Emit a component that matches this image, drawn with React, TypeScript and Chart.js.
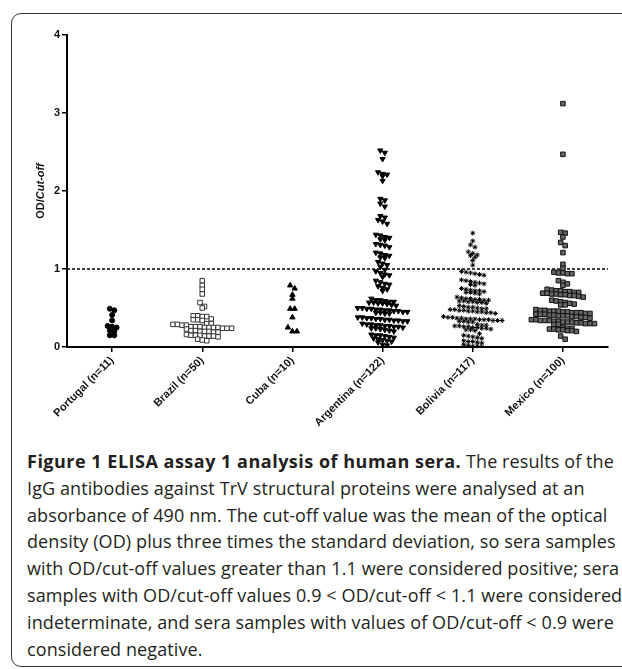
import React, { useEffect, useRef } from "react";
import { Chart, registerables } from "chart.js";

Chart.register(...registerables);

// ---- data -------------------------------------------------------------
const categories = [
  "Portugal (n=11)",
  "Brazil (n=50)",
  "Cuba (n=10)",
  "Argentina (n=122)",
  "Bolivia (n=117)",
  "Mexico (n=100)",
];

const yTicks = [0, 1, 2, 3, 4];
const cutoffLine = 1;

const portugal = [0.49, 0.47, 0.41, 0.34, 0.27, 0.26, 0.25, 0.21, 0.2, 0.15, 0.15];

const brazil = [
  0.85, 0.79, 0.74, 0.68, 0.57, 0.52, 0.5,
  0.4, 0.4, 0.39, 0.39,
  0.36, 0.35, 0.35, 0.34,
  0.3, 0.3, 0.29, 0.29, 0.28, 0.28,
  0.26, 0.26, 0.26, 0.25, 0.25, 0.25, 0.25, 0.24, 0.24, 0.24, 0.23,
  0.21, 0.21, 0.2, 0.2, 0.2, 0.19, 0.19,
  0.16, 0.15, 0.15, 0.15, 0.14, 0.14, 0.14, 0.13,
  0.1, 0.09, 0.08,
];

const cuba = [0.79, 0.75, 0.67, 0.62, 0.49, 0.49, 0.38, 0.25, 0.2, 0.2];

const argentina = [
  2.52, 2.49,
  2.41,
  2.24, 2.22, 2.21, 2.19,
  2.13,
  1.9, 1.88, 1.84, 1.8,
  1.68, 1.66, 1.63, 1.61, 1.58,
  1.44, 1.43, 1.41, 1.4, 1.38, 1.37,
  1.32, 1.31, 1.3, 1.28,
  1.21, 1.2, 1.18, 1.17, 1.15, 1.14,
  1.09, 1.07, 1.05, 1.03,
  0.99, 0.97, 0.95, 0.93, 0.92, 0.9,
  0.85, 0.83, 0.81, 0.8, 0.78, 0.76, 0.74, 0.72,
  0.62, 0.6, 0.6, 0.59, 0.58, 0.58, 0.57, 0.57, 0.56, 0.56, 0.55, 0.54, 0.53,
  0.5, 0.5, 0.49, 0.49, 0.48, 0.48, 0.47, 0.47, 0.46, 0.46, 0.45, 0.45, 0.44, 0.44, 0.43, 0.43,
  0.38, 0.38, 0.37, 0.37, 0.36, 0.36, 0.35, 0.35, 0.34, 0.34, 0.33, 0.33,
  0.3, 0.29, 0.29, 0.28, 0.28, 0.27, 0.27, 0.26, 0.26, 0.25, 0.24, 0.24, 0.23, 0.22, 0.21, 0.2,
  0.16, 0.15, 0.15, 0.14, 0.13, 0.12, 0.11, 0.1, 0.09, 0.08, 0.07, 0.06,
  0.03, 0.02,
];

const bolivia = [
  1.46,
  1.36, 1.31, 1.28,
  1.22, 1.2, 1.18, 1.17, 1.15,
  1.11, 1.05,
  0.97, 0.96, 0.95, 0.94, 0.93, 0.92,
  0.86, 0.85, 0.84, 0.83, 0.82, 0.81, 0.8, 0.79,
  0.75, 0.74, 0.73, 0.72, 0.72, 0.71, 0.7, 0.7, 0.69, 0.68,
  0.64, 0.63, 0.62, 0.62, 0.61, 0.61, 0.6, 0.6, 0.59, 0.59, 0.58, 0.58, 0.57, 0.57, 0.56,
  0.53, 0.52, 0.51, 0.51, 0.5, 0.49, 0.49, 0.48, 0.48, 0.47, 0.47, 0.46, 0.46, 0.45, 0.45, 0.44, 0.44, 0.43,
  0.39, 0.38, 0.38, 0.37, 0.37, 0.36, 0.36, 0.36, 0.35, 0.35, 0.35, 0.34, 0.34, 0.34, 0.33, 0.33, 0.32, 0.32,
  0.29, 0.28, 0.28, 0.27, 0.27, 0.26, 0.26, 0.25, 0.25, 0.24, 0.24, 0.23, 0.22, 0.22, 0.21,
  0.17, 0.15, 0.14, 0.13, 0.12, 0.11,
  0.08, 0.07, 0.07, 0.06, 0.05,
  0.03, 0.02, 0.01, 0.01, 0.0,
];

const mexico = [
  3.12, 2.47,
  1.47, 1.46, 1.41, 1.34, 1.3,
  1.21, 1.06, 1.01,
  0.96, 0.95, 0.95, 0.94, 0.94,
  0.85, 0.83, 0.81, 0.79,
  0.74, 0.73, 0.72, 0.72, 0.71, 0.71, 0.7, 0.7, 0.69, 0.69, 0.68, 0.68, 0.67, 0.67, 0.66, 0.66, 0.65, 0.64,
  0.6, 0.59, 0.58, 0.57, 0.56, 0.55, 0.54, 0.54,
  0.48, 0.47, 0.47, 0.46, 0.46, 0.46, 0.45, 0.45, 0.44, 0.44, 0.44, 0.43, 0.43, 0.42, 0.42, 0.42,
  0.41, 0.41, 0.4, 0.4, 0.4, 0.39, 0.39, 0.38, 0.38, 0.37,
  0.35, 0.35, 0.34, 0.34, 0.34, 0.33, 0.33, 0.32, 0.32, 0.32, 0.31, 0.31, 0.3, 0.3, 0.3, 0.29, 0.29,
  0.25, 0.24, 0.24, 0.23, 0.23, 0.22, 0.22, 0.21, 0.21, 0.2,
  0.14, 0.1,
];

const seriesValues = [portugal, brazil, cuba, argentina, bolivia, mexico];

// ---- caption ----------------------------------------------------------
const captionBold = "Figure 1 ELISA assay 1 analysis of human sera.";
const captionLines = [
  " The results of the",
  "IgG antibodies against TrV structural proteins were analysed at an",
  "absorbance of 490 nm. The cut-off value was the mean of the optical",
  "density (OD) plus three times the standard deviation, so sera samples",
  "with OD/cut-off values greater than 1.1 were considered positive; sera",
  "samples with OD/cut-off values 0.9 < OD/cut-off < 1.1 were considered",
  "indeterminate, and sera samples with values of OD/cut-off < 0.9 were",
  "considered negative.",
];

// ---- styles -----------------------------------------------------------
const markerStyles = [
  { pointStyle: "circle", radius: 2.5, bg: "#000", border: "#000", rotation: 0 },
  { pointStyle: "rect", radius: 3.2, bg: "#fff", border: "#333", rotation: 0 },
  { pointStyle: "triangle", radius: 3.1, bg: "#000", border: "#000", rotation: 0 },
  { pointStyle: "triangle", radius: 3.0, bg: "#000", border: "#000", rotation: 180 },
  { pointStyle: "star", radius: 2.4, bg: "#000", border: "#000", rotation: 0 },
  { pointStyle: "rect", radius: 3.2, bg: "#666", border: "#111", rotation: 0 },
];

const FONT = "'Liberation Sans', Arial, Helvetica, sans-serif";

// column-scatter layout: points of similar value share a row, centred on the category
function swarm(values: number[], idx: number, rowH: number, pitch: number) {
  const sorted = [...values].sort((a, b) => b - a);
  const out: { x: number; y: number }[] = [];
  let i = 0;
  while (i < sorted.length) {
    const start = sorted[i];
    const row: number[] = [];
    while (i < sorted.length && start - sorted[i] < rowH) {
      row.push(sorted[i]);
      i++;
    }
    row.forEach((v, k) => out.push({ x: idx + (k - (row.length - 1) / 2) * pitch, y: v }));
  }
  return out;
}

const cutoffPlugin = {
  id: "cutoffLine",
  beforeDatasetsDraw(chart: any) {
    const { ctx, chartArea, scales } = chart;
    const y = scales.y.getPixelForValue(cutoffLine);
    ctx.save();
    ctx.strokeStyle = "#000";
    ctx.lineWidth = 1.5;
    ctx.setLineDash([3, 2]);
    ctx.beginPath();
    ctx.moveTo(chartArea.left, y);
    ctx.lineTo(chartArea.right, y);
    ctx.stroke();
    ctx.restore();
  },
};

const yTitlePlugin = {
  id: "yTitle",
  afterDraw(chart: any) {
    const { ctx, chartArea } = chart;
    const cy = (chartArea.top + chartArea.bottom) / 2;
    ctx.save();
    ctx.translate(41, cy);
    ctx.rotate(-Math.PI / 2);
    ctx.fillStyle = "#111";
    ctx.textBaseline = "middle";
    const f1 = `bold 11px ${FONT}`;
    const f2 = `italic bold 11px ${FONT}`;
    ctx.font = f1;
    const w1 = ctx.measureText("OD/").width;
    ctx.font = f2;
    const w2 = ctx.measureText("Cut-off").width;
    const x0 = -(w1 + w2) / 2;
    ctx.font = f1;
    ctx.textAlign = "left";
    ctx.fillText("OD/", x0, 0);
    ctx.font = f2;
    ctx.fillText("Cut-off", x0 + w1, 0);
    ctx.restore();
  },
};

function ScatterChart() {
  const ref = useRef<HTMLCanvasElement | null>(null);
  useEffect(() => {
    if (!ref.current) return;
    const datasets = seriesValues.map((vals, i) => {
      const s = markerStyles[i];
      return {
        label: categories[i],
        data: swarm(vals, i, 0.05, 0.05),
        pointStyle: s.pointStyle as any,
        pointRadius: s.radius,
        pointRotation: s.rotation,
        pointBackgroundColor: s.bg,
        pointBorderColor: s.border,
        pointBorderWidth: 1,
        showLine: false,
      };
    });
    const chart = new Chart(ref.current, {
      type: "scatter",
      data: { datasets },
      options: {
        animation: false,
        responsive: false,
        devicePixelRatio: 1,
        layout: { padding: { left: 0, right: 14, top: 35, bottom: 0 } },
        plugins: { legend: { display: false }, tooltip: { enabled: false } },
        scales: {
          x: {
            type: "linear",
            min: -0.5,
            max: categories.length - 0.5,
            afterBuildTicks: (s: any) => {
              s.ticks = categories.map((_, i) => ({ value: i }));
            },
            afterFit: (s: any) => {
              s.height = 93;
            },
            ticks: {
              autoSkip: false,
              minRotation: 45,
              maxRotation: 45,
              padding: 2,
              color: "#111",
              font: { family: FONT, size: 11, weight: "bold" },
              callback: (v: any) => categories[v as number] ?? "",
            },
            grid: { drawOnChartArea: false, tickLength: 5, color: "#000", lineWidth: 1.5 },
            border: { color: "#000", width: 2 },
          },
          y: {
            min: yTicks[0],
            max: yTicks[yTicks.length - 1],
            afterBuildTicks: (s: any) => {
              s.ticks = yTicks.map((v) => ({ value: v }));
            },
            afterFit: (s: any) => {
              s.width = 67;
            },
            ticks: {
              padding: 2,
              color: "#111",
              font: { family: FONT, size: 11, weight: "bold" },
            },
            grid: { drawOnChartArea: false, tickLength: 5, color: "#000", lineWidth: 1.5 },
            border: { color: "#000", width: 2 },
          },
        },
      },
      plugins: [cutoffPlugin, yTitlePlugin],
    });
    return () => chart.destroy();
  }, []);
  return (
    <canvas
      ref={ref}
      width={622}
      height={440}
      style={{ position: "absolute", left: 0, top: 0, width: 622, height: 440 }}
    />
  );
}

export default function App() {
  return (
    <div
      style={{
        position: "absolute",
        left: 0,
        top: 0,
        width: 622,
        height: 669,
        overflow: "hidden",
        background: "#fff",
      }}
    >
      <div
        style={{
          position: "absolute",
          left: 11,
          top: 13,
          width: 700,
          height: 654,
          border: "1.5px solid #333",
          borderRadius: 10,
          boxSizing: "border-box",
        }}
      />
      <ScatterChart />
      <div
        style={{
          position: "absolute",
          left: 27,
          top: 448,
          fontFamily: "'Open Sans', 'Noto Sans', sans-serif",
          fontSize: 18,
          letterSpacing: "0.1px",
          lineHeight: "26.8px",
          color: "#231f20",
          whiteSpace: "nowrap",
        }}
      >
        {captionLines.map((line, i) => (
          <div key={i}>
            {i === 0 ? (
              <b style={{ letterSpacing: "0.5px" }}>{captionBold}</b>
            ) : null}
            {line}
          </div>
        ))}
      </div>
    </div>
  );
}
